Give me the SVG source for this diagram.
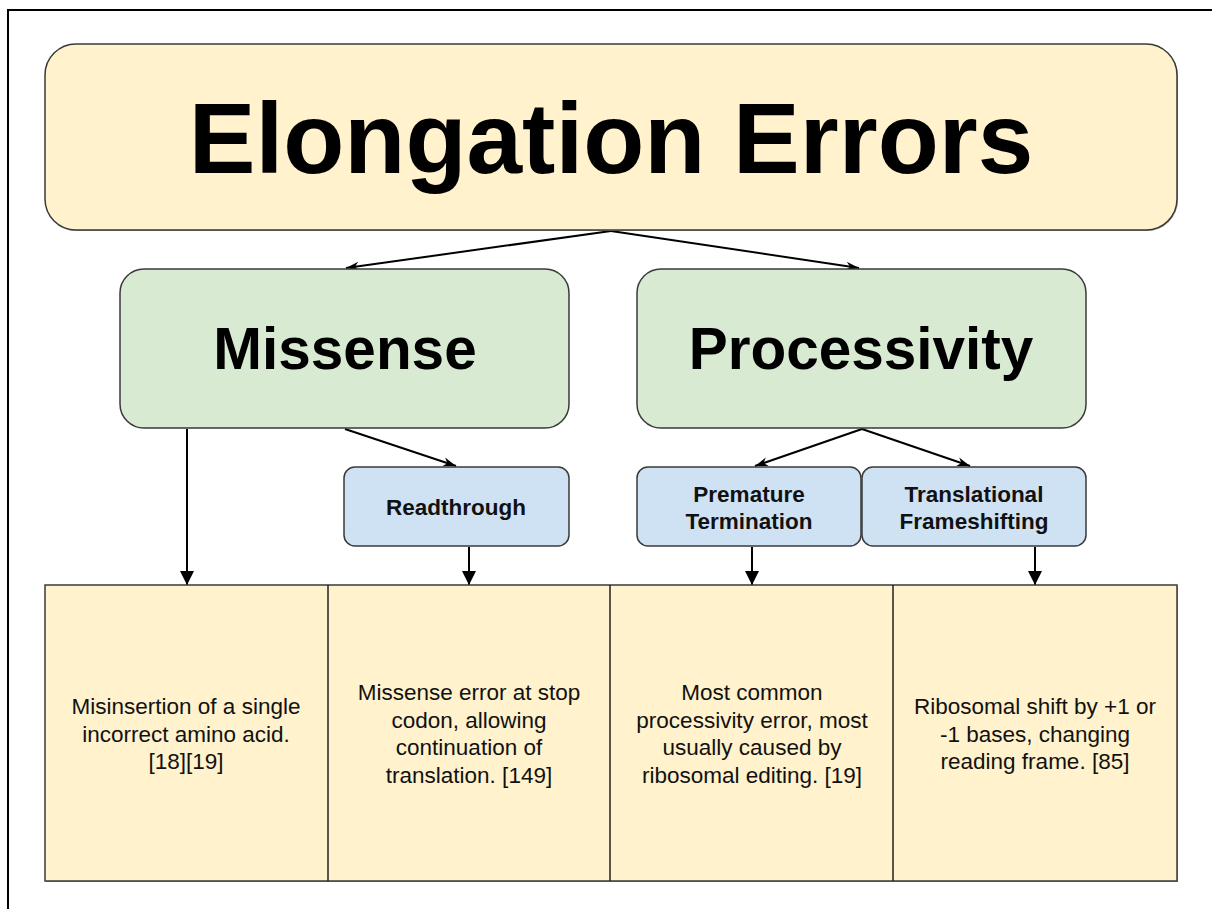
<svg xmlns="http://www.w3.org/2000/svg" width="1212" height="909" viewBox="0 0 1212 909">
  <style>
    .title { font-family: "Liberation Sans", Arial, sans-serif; font-weight: bold; fill: #000; text-anchor: middle; }
    .label { font-family: "Liberation Sans", Arial, sans-serif; font-weight: bold; font-size: 22.5px; fill: #111; text-anchor: middle; }
    .body { font-family: "Liberation Sans", Arial, sans-serif; font-size: 22.5px; fill: #111; text-anchor: middle; }
    .yellow { fill: #fff2cc; stroke: #3a3a3a; stroke-width: 1.5; }
    .green { fill: #d9ead3; stroke: #3a3a3a; stroke-width: 1.5; }
    .blue { fill: #cfe2f3; stroke: #3a3a3a; stroke-width: 1.5; }
    .shadow { fill: #9a9a9a; }
    .edge { stroke: #000; stroke-width: 2; fill: none; }
    .slant { marker-end: url(#openHead); }
    .drop { marker-end: url(#solidHead); }
  </style>
  <defs>
    <marker id="openHead" viewBox="0 0 14 10" refX="13" refY="5" markerWidth="14" markerHeight="10" markerUnits="userSpaceOnUse" orient="auto">
      <path d="M0,0.5 L13,5 L0,9.5 L4,5 Z" fill="#000"/>
    </marker>
    <marker id="solidHead" viewBox="0 0 14 14" refX="14" refY="7" markerWidth="14" markerHeight="14" markerUnits="userSpaceOnUse" orient="auto">
      <path d="M0,0 L14,7 L0,14 Z" fill="#000"/>
    </marker>
  </defs>

  <rect width="1212" height="909" fill="#fff"/>

  <!-- page frame -->
  <path d="M8,909 L8,10 L1212,10" fill="none" stroke="#000" stroke-width="2"/>

  <!-- connectors -->
  <g id="connectors">
    <path class="edge slant" d="M611,231 L346,268"/>
    <path class="edge slant" d="M611,231 L859,268"/>
    <path class="edge slant" d="M345,429 L456,466"/>
    <path class="edge drop" d="M187,429 L187,585"/>
    <path class="edge drop" d="M469,547 L469,585"/>
    <path class="edge slant" d="M862,429 L755,466"/>
    <path class="edge slant" d="M862,429 L970,466"/>
    <path class="edge drop" d="M752,547 L752,585"/>
    <path class="edge drop" d="M1035,547 L1035,585"/>
  </g>

  <!-- heading -->
  <g id="elongation-errors">
    <rect class="shadow" x="46" y="45" width="1132" height="186" rx="31"/>
    <rect class="yellow" x="45" y="44" width="1132" height="186" rx="31"/>
    <text class="title" x="611" y="173" font-size="100">Elongation Errors</text>
  </g>

  <!-- categories -->
  <g id="missense">
    <rect class="green" x="120" y="269" width="449" height="159" rx="24"/>
    <text class="title" x="345" y="369" font-size="58.5">Missense</text>
  </g>
  <g id="processivity">
    <rect class="green" x="637" y="269" width="449" height="159" rx="24"/>
    <text class="title" x="861" y="369" font-size="58.5">Processivity</text>
  </g>

  <!-- subtypes -->
  <g id="readthrough">
    <rect class="blue" x="344" y="467" width="225" height="79" rx="11"/>
    <text class="label" x="456" y="515">Readthrough</text>
  </g>
  <g id="premature-termination">
    <rect class="blue" x="637" y="467" width="224" height="79" rx="11"/>
    <text class="label" x="749" y="502">Premature</text>
    <text class="label" x="749" y="529">Termination</text>
  </g>
  <g id="translational-frameshifting">
    <rect class="blue" x="862" y="467" width="224" height="79" rx="11"/>
    <text class="label" x="974" y="502">Translational</text>
    <text class="label" x="974" y="529">Frameshifting</text>
  </g>

  <!-- description table -->
  <g id="descriptions">
    <rect class="shadow" x="46" y="586" width="1132" height="296"/>
    <rect class="yellow" x="45" y="585" width="1132" height="296"/>
    <path d="M328,585 V881 M610,585 V881 M893,585 V881" stroke="#222" stroke-width="1.5"/>
  </g>
  <g id="desc-missense">
    <text class="body" x="186" y="714">Misinsertion of a single</text>
    <text class="body" x="186" y="741.5">incorrect amino acid.</text>
    <text class="body" x="186" y="769">[18][19]</text>
  </g>
  <g id="desc-readthrough">
    <text class="body" x="469" y="700">Missense error at stop</text>
    <text class="body" x="469" y="727.5">codon, allowing</text>
    <text class="body" x="469" y="755">continuation of</text>
    <text class="body" x="469" y="782.5">translation. [149]</text>
  </g>
  <g id="desc-premature">
    <text class="body" x="752" y="700">Most common</text>
    <text class="body" x="752" y="727.5">processivity error, most</text>
    <text class="body" x="752" y="755">usually caused by</text>
    <text class="body" x="752" y="782.5">ribosomal editing. [19]</text>
  </g>
  <g id="desc-frameshift">
    <text class="body" x="1035" y="714">Ribosomal shift by +1 or</text>
    <text class="body" x="1035" y="741.5">-1 bases, changing</text>
    <text class="body" x="1035" y="769">reading frame. [85]</text>
  </g>
</svg>
